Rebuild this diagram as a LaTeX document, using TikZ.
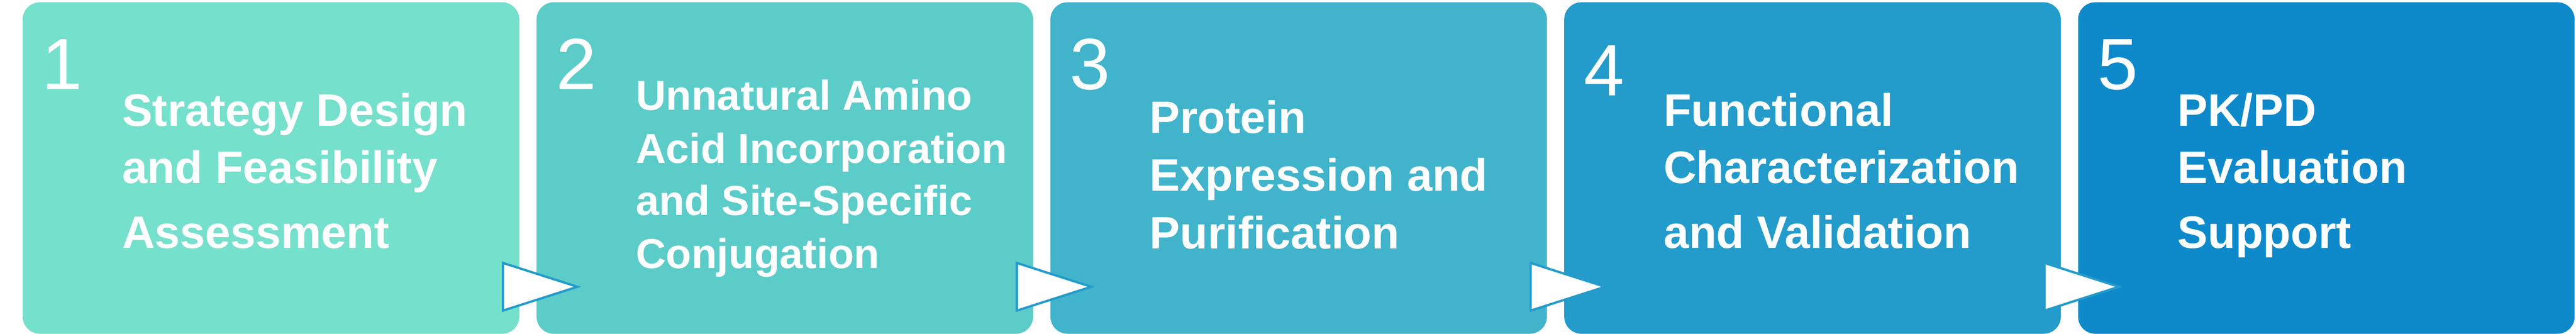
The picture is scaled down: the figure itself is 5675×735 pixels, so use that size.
\documentclass[tikz,border=0pt]{standalone}
\usepackage{fontspec}
\setmainfont{Liberation Sans}
\usetikzlibrary{positioning, calc, shapes}

\definecolor{stepA}{HTML}{75E0CB}
\definecolor{stepB}{HTML}{5CCCC9}
\definecolor{stepC}{HTML}{41B4CC}
\definecolor{stepD}{HTML}{239BCB}
\definecolor{stepE}{HTML}{0E89CA}

\tikzset{
  stepbox/.style={rectangle,rounded corners=7.6pt,minimum width=218.8pt,minimum height=146pt,inner sep=0pt,draw=none},
  stepnum/.style={anchor=base west,inner sep=0pt,text=white,font=\fontsize{32}{32}\selectfont},
  steptxt/.style={anchor=base west,inner sep=0pt,text=white,font=\fontsize{20}{20}\selectfont\bfseries},
  steptxtsmall/.style={steptxt,font=\fontsize{18.4}{18.4}\selectfont\bfseries},
  marker/.style={fill=white,draw=stepD,line width=1pt}
}

\begin{document}
\begin{tikzpicture}[x=0.2pt,y=-0.2pt]
        \useasboundingbox (0,0) rectangle (5675,735);
        % Step boxes
        \draw (597,370) node[stepbox,fill=stepA](st1){};
        \draw (1729,370) node[stepbox,fill=stepB](st2){};
        \draw (2861,370) node[stepbox,fill=stepC](st3){};
        \draw (3993,370) node[stepbox,fill=stepD](st4){};
        \draw (5125,370) node[stepbox,fill=stepE](st5){};
        % Step 1
        \draw (92,197) node[stepnum](st1_n){1};
        \draw (268,277) node[steptxt](st1_a){Strategy Design};
        \draw (268,404) node[steptxt](st1_b){and Feasibility};
        \draw (268,546) node[steptxt](st1_c){Assessment};
        % Step 2
        \draw (1224,197) node[stepnum](st2_n){2};
        \draw (1400,242) node[steptxtsmall](st2_a){Unnatural Amino};
        \draw (1400,359) node[steptxtsmall](st2_b){Acid Incorporation};
        \draw (1400,474) node[steptxtsmall](st2_c){and Site-Specific};
        \draw (1400,591) node[steptxtsmall](st2_d){Conjugation};
        % Step 3
        \draw (2356,197) node[stepnum](st3_n){3};
        \draw (2532,293) node[steptxt](st3_a){Protein};
        \draw (2532,420) node[steptxt](st3_b){Expression and};
        \draw (2532,548) node[steptxt](st3_c){Purification};
        % Step 4
        \draw (3488,211) node[stepnum](st4_n){4};
        \draw (3664,277) node[steptxt](st4_a){Functional};
        \draw (3664,404) node[steptxt](st4_b){Characterization};
        \draw (3664,546) node[steptxt](st4_c){and Validation};
        % Step 5
        \draw (4620,197) node[stepnum](st5_n){5};
        \draw (4796,277) node[steptxt](st5_a){PK/PD};
        \draw (4796,404) node[steptxt](st5_b){Evaluation};
        \draw (4796,546) node[steptxt](st5_c){Support};
        % Markers between steps
        \draw[marker] ($(st1.east)+(-37,209)$) -- ($(st1.east)+(127,261.5)$) -- ($(st1.east)+(-37,314)$) -- cycle;
        \draw[marker] ($(st2.east)+(-37,209)$) -- ($(st2.east)+(127,261.5)$) -- ($(st2.east)+(-37,314)$) -- cycle;
        \draw[marker] ($(st3.east)+(-37,209)$) -- ($(st3.east)+(127,261.5)$) -- ($(st3.east)+(-37,314)$) -- cycle;
        \draw[marker] ($(st4.east)+(-37,209)$) -- ($(st4.east)+(127,261.5)$) -- ($(st4.east)+(-37,314)$) -- cycle;
      \end{tikzpicture}
\end{document}
